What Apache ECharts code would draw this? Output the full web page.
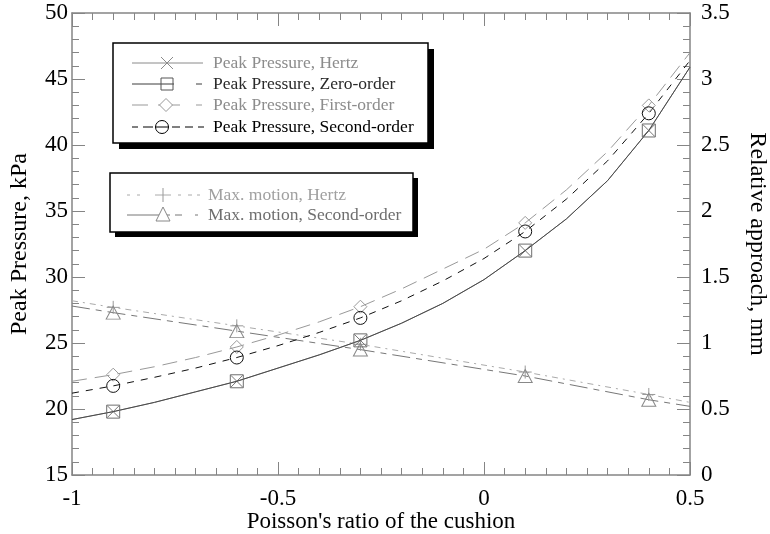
<!DOCTYPE html>
<html>
<head>
<meta charset="utf-8">
<script src="https://cdn.jsdelivr.net/npm/echarts@6/dist/echarts.min.js"></script>
<style>
  html, body { margin: 0; padding: 0; background: #fff; }
  #chart { width: 770px; height: 534px; }
</style>
</head>
<body>
<div id="chart"></div>
<script>
// Poisson's ratio of the cushion (computation grid)
const nu = [-1, -0.9, -0.8, -0.7, -0.6, -0.5, -0.4, -0.3, -0.2, -0.1, 0, 0.1, 0.2, 0.3, 0.4, 0.5];
// Ratios at which symbols are drawn
const markedNu = [-0.9, -0.6, -0.3, 0.1, 0.4];

// Peak pressure, kPa
const pressureHertz  = [19.2, 19.8, 20.5, 21.3, 22.1, 23.1, 24.1, 25.2, 26.5, 28.0, 29.8, 32.0, 34.4, 37.3, 41.1, 45.9];
const pressureZero   = [19.2, 19.8, 20.5, 21.3, 22.1, 23.1, 24.1, 25.2, 26.5, 28.0, 29.8, 32.0, 34.4, 37.3, 41.1, 45.9];
const pressureFirst  = [22.1, 22.6, 23.2, 23.9, 24.7, 25.6, 26.6, 27.75, 29.1, 30.6, 32.1, 34.1, 36.6, 39.5, 43.0, 47.0];
const pressureSecond = [21.2, 21.75, 22.4, 23.1, 23.9, 24.8, 25.8, 26.9, 28.2, 29.7, 31.4, 33.45, 35.9, 38.8, 42.4, 46.4];

// Maximum motion (relative approach), mm
const motionNu     = [-1, -0.9, -0.6, -0.3, 0.1, 0.4, 0.5];
const motionHertz  = [1.32, 1.27, 1.13, 0.99, 0.78, 0.61, 0.55];
const motionSecond = [1.28, 1.23, 1.09, 0.95, 0.75, 0.57, 0.52];

// Axis ticks
const xTicks = [-1, -0.5, 0, 0.5];
const xTickLabels = ['-1', '-0.5', '0', '0.5'];
const yLeftLabels = ['15', '20', '25', '30', '35', '40', '45', '50'];
const yRightLabels = ['0', '0.5', '1', '1.5', '2', '2.5', '3', '3.5'];

// Legend entries
const legendPressure = ['Peak Pressure, Hertz', 'Peak Pressure, Zero-order', 'Peak Pressure, First-order', 'Peak Pressure, Second-order'];
const legendMotion = ['Max. motion, Hertz', 'Max. motion, Second-order'];

const SERIF = '"Liberation Serif", "Times New Roman", "DejaVu Serif", serif';
const SYM_X = 'path://M0,0L10,10M10,0L0,10';
const SYM_PLUS = 'path://M5,0L5,10M0,5L10,5';

function points(xs, ys) {
  return xs.map((x, i) => {
    const item = { value: [x, ys[i]] };
    if (!markedNu.includes(x)) item.symbol = 'none';
    return item;
  });
}

function lineSeries(name, xs, ys, opt) {
  return {
    name: name,
    type: 'line',
    yAxisIndex: opt.yAxisIndex || 0,
    data: points(xs, ys),
    symbol: opt.symbol,
    symbolSize: opt.symbolSize,
    showSymbol: true,
    lineStyle: { color: opt.lineColor, width: 1, type: opt.dash || 'solid' },
    itemStyle: { color: 'rgba(255,255,255,0)', borderColor: opt.symbolColor, borderWidth: 1 },
    emphasis: { disabled: true },
    silent: true,
    z: opt.z || 2
  };
}

const labelOf = (arr, ticks) => (v) => {
  const i = ticks.findIndex(t => Math.abs(t - v) < 1e-9);
  return i >= 0 ? arr[i] : '';
};
const yLeftTicks = yLeftLabels.map(Number);
const yRightTicks = yRightLabels.map(Number);

const axisLineStyle = { color: '#858585', width: 1.5 };
const tickStyle = { color: '#858585', width: 1 };

// Legend drawing helpers (graphic elements)
function seg(x1, x2, y, color) {
  return { type: 'line', shape: { x1: x1, y1: y, x2: x2, y2: y }, style: { stroke: color, lineWidth: 1 }, silent: true };
}
function symbolShape(kind, cx, cy, s, color) {
  const h = s / 2;
  const st = { stroke: color, fill: '#fff', lineWidth: 1 };
  switch (kind) {
    case 'x': return { type: 'polyline', shape: { points: [[cx - h, cy - h], [cx + h, cy + h]] }, style: { stroke: color, lineWidth: 1 } };
    case 'x2': return { type: 'polyline', shape: { points: [[cx + h, cy - h], [cx - h, cy + h]] }, style: { stroke: color, lineWidth: 1 } };
    case 'rect': return { type: 'rect', shape: { x: cx - h, y: cy - h, width: s, height: s }, style: { stroke: color, fill: 'none', lineWidth: 1 } };
    case 'diamond': return { type: 'polygon', shape: { points: [[cx, cy - h], [cx + h, cy], [cx, cy + h], [cx - h, cy]] }, style: st };
    case 'circle': return { type: 'circle', shape: { cx: cx, cy: cy, r: h }, style: { stroke: color, fill: 'none', lineWidth: 1 } };
    case 'tri': return { type: 'polygon', shape: { points: [[cx, cy - h], [cx + h, cy + h], [cx - h, cy + h]] }, style: st };
    case 'plusv': return { type: 'line', shape: { x1: cx, y1: cy - h, x2: cx, y2: cy + h }, style: { stroke: color, lineWidth: 1 } };
  }
}
function legendText(txt, x, y, color) {
  return { type: 'text', x: x, y: y, style: { text: txt, fill: color, font: '17.5px ' + SERIF, textVerticalAlign: 'middle' }, silent: true };
}

const g = [];
// Pressure legend box with drop shadow
g.push({ type: 'rect', shape: { x: 119, y: 49, width: 315, height: 100 }, style: { fill: '#000' }, silent: true });
g.push({ type: 'rect', shape: { x: 113, y: 43, width: 315, height: 100 }, style: { fill: '#fff', stroke: '#000', lineWidth: 1.5 }, silent: true });
// row 1: Hertz
g.push(seg(132, 203, 63, '#8a8a8a'));
g.push(symbolShape('x', 167, 63, 12, '#8a8a8a'));
g.push(symbolShape('x2', 167, 63, 12, '#8a8a8a'));
g.push(legendText(legendPressure[0], 213, 63, '#8c8c8c'));
// row 2: zero-order
g.push(seg(132, 174, 84, '#3c3c3c'));
g.push(symbolShape('rect', 167, 84, 12, '#555'));
g.push(seg(196, 202, 84, '#3c3c3c'));
g.push(legendText(legendPressure[1], 213, 84, '#2a2a2a'));
// row 3: first-order
g.push(seg(132, 148, 105, '#999'));
g.push(seg(158, 180, 105, '#999'));
g.push(symbolShape('diamond', 166, 105, 13, '#999'));
g.push(seg(196, 202, 105, '#999'));
g.push(legendText(legendPressure[2], 213, 105, '#8c8c8c'));
// row 4: second-order
[[132, 138], [143, 153], [172, 180], [185, 193], [198, 204]].forEach(s => g.push(seg(s[0], s[1], 127, '#000')));
g.push(seg(155, 169, 127, '#000'));
g.push(symbolShape('circle', 162, 127, 13, '#000'));
g.push(legendText(legendPressure[3], 213, 127, '#000'));

// Motion legend box with drop shadow
g.push({ type: 'rect', shape: { x: 115, y: 178, width: 303, height: 59 }, style: { fill: '#000' }, silent: true });
g.push({ type: 'rect', shape: { x: 110, y: 173, width: 303, height: 59 }, style: { fill: '#fff', stroke: '#000', lineWidth: 1.5 }, silent: true });
[[127, 130], [137, 140], [155, 171], [178, 181], [188, 192], [197, 200]].forEach(s => g.push(seg(s[0], s[1], 195, '#aaa')));
g.push(symbolShape('plusv', 163, 195, 14, '#999'));
g.push(legendText(legendMotion[0], 208, 195, '#a0a0a0'));
[[127, 170], [175, 182], [195, 198]].forEach(s => g.push(seg(s[0], s[1], 215, '#777')));
g.push(symbolShape('tri', 163, 214, 14, '#888'));
g.push(legendText(legendMotion[1], 208, 215, '#6e6e6e'));

const chart = echarts.init(document.getElementById('chart'), null, { renderer: 'canvas' });
chart.setOption({
  animation: false,
  backgroundColor: '#fff',
  textStyle: { fontFamily: SERIF },
  grid: { left: 72, right: 80, top: 13, bottom: 59, containLabel: false, outerBoundsMode: 'none' },
  xAxis: [
    {
      type: 'value', position: 'bottom', min: -1, max: 0.5, interval: 0.5,
      name: "Poisson's ratio of the cushion", nameLocation: 'middle', nameGap: 35, nameMoveOverlap: false,
      nameTextStyle: { fontFamily: SERIF, fontSize: 23, color: '#000' },
      axisLine: { onZero: false, lineStyle: axisLineStyle },
      axisTick: { inside: true, length: 13, lineStyle: tickStyle },
      minorTick: { show: true, splitNumber: 10, length: 7, lineStyle: tickStyle },
      axisLabel: { fontFamily: SERIF, fontSize: 23, color: '#000', margin: 12, formatter: labelOf(xTickLabels, xTicks) },
      splitLine: { show: false }
    },
    {
      type: 'value', position: 'top', min: -1, max: 0.5, interval: 0.5,
      axisLine: { onZero: false, lineStyle: axisLineStyle },
      axisTick: { inside: true, length: 13, lineStyle: tickStyle },
      minorTick: { show: true, splitNumber: 10, length: 7, lineStyle: tickStyle },
      axisLabel: { show: false },
      splitLine: { show: false }
    }
  ],
  yAxis: [
    {
      type: 'value', position: 'left', min: 15, max: 50, interval: 5,
      name: 'Peak Pressure, kPa', nameLocation: 'middle', nameGap: 40, nameMoveOverlap: false,
      nameTextStyle: { fontFamily: SERIF, fontSize: 24, color: '#000' },
      axisLine: { show: true, onZero: false, lineStyle: axisLineStyle },
      axisTick: { show: true, inside: true, length: 13, lineStyle: tickStyle },
      minorTick: { show: true, splitNumber: 5, length: 7, lineStyle: tickStyle },
      axisLabel: { fontFamily: SERIF, fontSize: 23, color: '#000', margin: 4, padding: [6, 0, 0, 0], formatter: labelOf(yLeftLabels, yLeftTicks) },
      splitLine: { show: false }
    },
    {
      type: 'value', position: 'right', min: 0, max: 3.5, interval: 0.5,
      name: 'Relative approach, mm', nameLocation: 'middle', nameGap: 55, nameRotate: -90, nameMoveOverlap: false,
      nameTextStyle: { fontFamily: SERIF, fontSize: 24, color: '#000' },
      axisLine: { show: true, onZero: false, lineStyle: axisLineStyle },
      axisTick: { show: true, inside: true, length: 13, lineStyle: tickStyle },
      minorTick: { show: true, splitNumber: 5, length: 7, lineStyle: tickStyle },
      axisLabel: { fontFamily: SERIF, fontSize: 23, color: '#000', margin: 11, padding: [6, 0, 0, 0], formatter: labelOf(yRightLabels, yRightTicks) },
      splitLine: { show: false }
    }
  ],
  series: [
    lineSeries('Max. motion, Hertz', motionNu, motionHertz, { yAxisIndex: 1, symbol: SYM_PLUS, symbolSize: 13, lineColor: '#aaa', symbolColor: '#999', dash: [6, 5, 2, 5] }),
    lineSeries('Max. motion, Second-order', motionNu, motionSecond, { yAxisIndex: 1, symbol: 'triangle', symbolSize: [14, 13], lineColor: '#777', symbolColor: '#888', dash: [18, 6, 6, 6] }),
    lineSeries(legendPressure[2], nu, pressureFirst, { symbol: 'diamond', symbolSize: 13, lineColor: '#999', symbolColor: '#999', dash: [15, 8] }),
    lineSeries(legendPressure[3], nu, pressureSecond, { symbol: 'circle', symbolSize: 13, lineColor: '#111', symbolColor: '#111', dash: [7, 7] }),
    lineSeries(legendPressure[0], nu, pressureHertz, { symbol: SYM_X, symbolSize: 12, lineColor: '#8a8a8a', symbolColor: '#777' }),
    lineSeries(legendPressure[1], nu, pressureZero, { symbol: 'rect', symbolSize: 13, lineColor: '#4a4a4a', symbolColor: '#6e6e6e', z: 3 })
  ],
  graphic: { elements: g }
});
</script>
</body>
</html>
